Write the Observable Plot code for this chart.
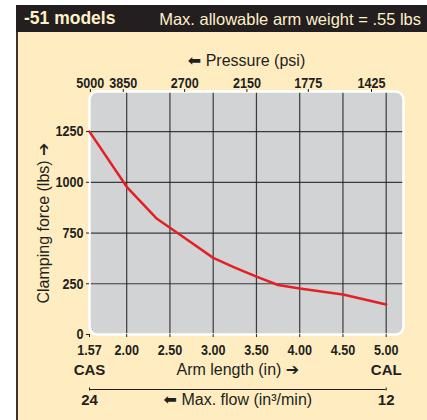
<!DOCTYPE html>
<html>
<head>
<meta charset="utf-8">
<script src="https://cdn.jsdelivr.net/npm/d3@7"></script>
<script src="https://cdn.jsdelivr.net/npm/@observablehq/plot@0.6"></script>
<style>
  html, body { margin: 0; padding: 0; background: #fff; }
  #page { position: relative; width: 427px; height: 420px; overflow: hidden; }
  #bar { position: absolute; left: 16px; top: 5px; width: 411px; height: 27px; background: #231f20; }
  #panel { position: absolute; left: 16px; top: 32px; width: 411px; height: 388px; background: #ffedc1; border-left: 2px solid #3a3329; box-sizing: border-box; }
  .hdr { position: absolute; color: #fff0c8; font-family: "Liberation Sans", Arial, sans-serif; white-space: nowrap; line-height: 1; }
  #t1 { left: 24px; top: 10px; font-size: 17.5px; font-weight: bold; }
  #t2 { right: 6px; top: 11px; font-size: 16.5px; }
  #chart { position: absolute; left: 0; top: 0; }
</style>
</head>
<body>
<div id="page">
  <div id="bar"></div>
  <div id="panel"></div>
  <div id="chart"></div>
  <div class="hdr" id="t1">-51 models</div>
  <div class="hdr" id="t2">Max. allowable arm weight = .55 lbs</div>
</div>
<script>
// ---- data ----
const armLength = [1.57, 2.00, 2.35, 2.75, 3.00, 3.25, 3.50, 3.75, 4.00, 4.50, 5.00];
const clampForce = [1250, 978, 820, 655, 505, 410, 320, 244, 227, 197, 148];

const armTicks = [1.57, 2.00, 2.50, 3.00, 3.50, 4.00, 4.50, 5.00];
const armGrid = [2.00, 2.50, 3.00, 3.50, 4.00, 4.50, 5.00];
// the printed force axis labels (evenly spaced as printed)
const forceTicks = [0, 250, 750, 1000, 1250];
const forceGrid = [250, 750, 1000, 1250];

const pressureLabels = ["5000", "3850", "2700", "2150", "1775", "1425"];
const pressureAtArm = [1.58, 1.96, 2.67, 3.39, 4.10, 4.83];

const endArm = [1.57, 5.00];
const endLabels = ["CAS", "CAL"];
const flowLabels = ["24", "12"];

// printed force axis is evenly spaced per label: piecewise position
const slot = d3.scaleLinear().domain(forceTicks).range(forceTicks.map((_, i) => i));

const data = armLength.map((a, i) => ({arm: a, force: clampForce[i]}));
const ends = endArm.map((a, i) => ({arm: a, name: endLabels[i], flow: flowLabels[i]}));

// ---- layout ----
const W = 427, H = 420, mL = 89, mR = 24, mT = 91, mB = 86;
const headroomSlots = 0.79;

const ink = "#231f20";
const sans = "'Liberation Sans', Arial, 'DejaVu Sans', sans-serif";
const lab = {fontSize: 15, fontWeight: "bold", fontFamily: sans};
const title = {fontFamily: sans, fontWeight: "normal", fontSize: 16};

const chart = Plot.plot({
  width: W, height: H,
  marginLeft: mL, marginRight: mR, marginTop: mT, marginBottom: mB,
  style: {background: "transparent", color: ink, fontFamily: sans, fontSize: "15px", fontWeight: "bold"},
  x: {domain: [1.57, 5.2]},
  y: {domain: [0, forceTicks.length - 1 + headroomSlots]},
  marks: [
    Plot.frame({fill: "#d1d3d4", rx: 8}),
    Plot.gridX({ticks: armGrid, stroke: ink, strokeOpacity: 0.85, strokeWidth: 1.2}),
    Plot.gridY({ticks: forceGrid.map(slot), stroke: ink, strokeOpacity: 0.85, strokeWidth: 1.2}),
    Plot.frame({stroke: "white", strokeWidth: 2.5, rx: 8}),
    Plot.line(data, {x: "arm", y: d => slot(d.force), stroke: "#e41f26", strokeWidth: 2.5}),
    Plot.axisY({ticks: forceTicks.map(slot), tickSize: 3, tickPadding: 3, label: null, ...lab,
      tickFormat: v => String(forceTicks[Math.round(v)])}),
    Plot.axisX({anchor: "bottom", ticks: armTicks, tickSize: 3, tickPadding: 7, label: null, ...lab, tickFormat: d3.format(".2f")}),
    Plot.axisX({anchor: "top", ticks: pressureAtArm, tickSize: 3, tickPadding: 1, label: null, ...lab,
      tickFormat: d => pressureLabels[pressureAtArm.indexOf(d)]}),
    // axis titles
    Plot.text(["\u2B05 Pressure (psi)"], {frameAnchor: "top", dy: -37, ...title}),
    Plot.text(["Clamping force (lbs) \u2794"], {frameAnchor: "left", textAnchor: "middle", rotate: -90, dx: -46, dy: 10, ...title}),
    Plot.text(["Arm length (in) \u2794"], {x: () => (endArm[0] + endArm[1]) / 2, frameAnchor: "bottom", dy: 40, ...title}),
    Plot.text(["\u2B05 Max. flow (in\u00b3/min)"], {x: () => (endArm[0] + endArm[1]) / 2, frameAnchor: "bottom", dy: 70, ...title}),
    // end labels
    Plot.text(ends, {x: "arm", text: "name", frameAnchor: "bottom", dy: 40, ariaLabel: "end label", ...lab}),
    Plot.text(ends, {x: "arm", text: "flow", frameAnchor: "bottom", dy: 70, ariaLabel: "end label", ...lab}),
    Plot.ruleY([0], {x1: endArm[0], x2: endArm[1], dy: 55, stroke: ink, strokeWidth: 1}),
    Plot.ruleX(endArm, {y1: -0.03, y2: 0.03, dy: 55, stroke: ink, strokeWidth: 1})
  ]
});
document.getElementById("chart").appendChild(chart);

// condensed look for the bold numeric labels
chart.querySelectorAll('g[aria-label$="tick label"] text, g[aria-label="end label"] text').forEach(t => {
  const len = t.getComputedTextLength();
  t.setAttribute("textLength", (len * 0.84).toFixed(1));
  t.setAttribute("lengthAdjust", "spacingAndGlyphs");
});
</script>
</body>
</html>
